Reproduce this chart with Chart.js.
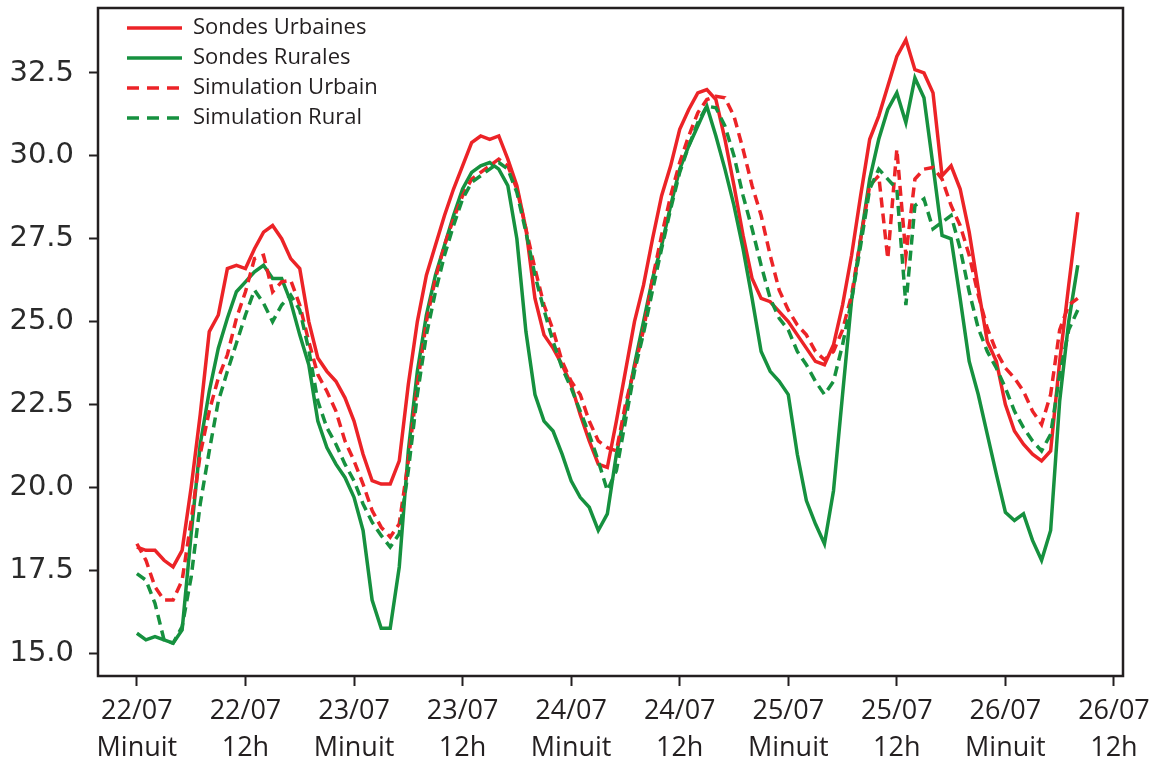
<!DOCTYPE html>
<html>
<head>
<meta charset="utf-8">
<script src="https://cdn.jsdelivr.net/npm/chart.js@4.4.1/dist/chart.umd.min.js"></script>
<style>
  html, body { margin: 0; padding: 0; background: #ffffff; }
  #wrap { width: 1162px; height: 765px; }
</style>
</head>
<body>
<div id="wrap"><canvas id="c" width="1162" height="765"></canvas></div>
<script>
// Hours since 22/07 00h (one value per hour)
const seriesNames = ["Sondes Urbaines", "Sondes Rurales", "Simulation Urbain", "Simulation Rural"];

const urbanObs = [
  18.2,18.1,18.1,17.8,17.6,18.1,20.0,22.2,24.7,25.2,26.6,26.7,26.6,27.2,27.7,27.9,27.5,26.9,26.6,25.0,
  23.9,23.5,23.2,22.7,22.0,21.0,20.2,20.1,20.1,20.8,23.1,25.0,26.4,27.3,28.2,29.0,29.7,30.4,30.6,30.5,
  30.6,29.9,29.1,27.8,25.7,24.6,24.2,23.7,23.1,22.2,21.4,20.7,20.6,22.0,23.5,25.0,26.1,27.5,28.8,29.7,
  30.8,31.4,31.9,32.0,31.7,30.5,29.1,27.6,26.3,25.7,25.6,25.3,25.0,24.6,24.2,23.8,23.7,24.3,25.5,27.0,
  28.8,30.5,31.2,32.1,33.0,33.5,32.6,32.5,31.9,29.4,29.7,29.0,27.7,26.0,24.4,23.8,22.5,21.7,21.3,21.0,
  20.8,21.1,23.8,26.1,28.3
];
const ruralObs = [
  15.6,15.4,15.5,15.4,15.3,15.7,18.6,21.3,22.9,24.2,25.1,25.9,26.2,26.5,26.7,26.3,26.3,25.6,24.6,23.7,
  22.0,21.2,20.7,20.3,19.7,18.7,16.6,15.75,15.75,17.6,21.1,23.5,25.2,26.4,27.3,28.2,29.0,29.5,29.7,29.8,
  29.6,29.1,27.5,24.7,22.8,22.0,21.7,21.0,20.2,19.7,19.4,18.7,19.2,21.0,22.3,23.7,25.0,26.3,27.3,28.5,
  29.6,30.3,30.9,31.5,30.6,29.6,28.5,27.2,25.7,24.1,23.5,23.2,22.8,21.0,19.6,18.9,18.3,19.9,22.8,25.65,
  27.5,29.3,30.5,31.4,31.9,31.0,32.35,31.75,29.7,27.6,27.5,25.7,23.8,22.8,21.6,20.4,19.25,19.0,19.2,18.4,
  17.8,18.7,22.6,25.0,26.7
];
const simUrban = [
  18.3,17.8,17.0,16.6,16.6,17.2,19.0,21.0,22.3,23.3,24.0,25.1,25.9,26.9,27.0,25.9,26.2,26.25,25.5,24.4,
  23.4,22.9,22.3,21.4,20.8,20.1,19.3,18.8,18.5,18.9,20.8,23.1,25.0,26.3,27.3,28.1,28.8,29.3,29.5,29.7,
  29.9,29.7,29.0,27.8,26.6,25.5,24.75,23.8,23.2,22.8,22.0,21.4,21.2,21.1,22.5,23.6,24.75,26.3,27.6,28.8,
  29.8,30.6,31.3,31.7,31.8,31.75,31.2,30.2,29.1,28.2,27.0,25.95,25.35,24.9,24.6,24.1,23.85,24.1,24.75,25.8,
  27.5,29.1,29.4,26.9,30.2,27.0,29.3,29.6,29.65,29.3,28.5,27.9,27.0,25.8,24.8,24.1,23.6,23.3,22.9,22.3,
  21.9,22.8,24.75,25.5,25.7
];
const simRural = [
  17.4,17.2,16.5,15.4,15.3,15.8,17.3,19.5,21.1,22.6,23.5,24.35,25.2,25.95,25.55,25.0,25.5,25.8,25.35,24.15,
  22.6,21.8,21.3,20.7,20.2,19.5,18.95,18.55,18.2,18.6,20.5,22.8,24.6,25.9,27.0,27.9,28.7,29.2,29.4,29.6,
  29.8,29.6,28.9,27.7,26.4,25.35,24.4,23.6,23.0,22.3,21.6,20.8,19.9,20.5,22.0,23.5,24.65,25.95,27.2,28.4,
  29.5,30.3,31.0,31.5,31.45,30.9,30.0,28.8,27.8,26.7,25.7,25.1,24.75,24.1,23.7,23.2,22.8,23.2,24.3,25.65,
  27.3,29.0,29.6,29.3,29.0,25.5,28.5,28.7,27.8,28.0,28.2,27.2,25.9,24.8,24.1,23.6,23.0,22.3,21.8,21.4,
  21.1,21.6,23.4,24.75,25.35
];

const xTickHours = [0, 12, 24, 36, 48, 60, 72, 84, 96, 108];
const xTickLabels = [
  ["22/07", "Minuit"], ["22/07", "12h"], ["23/07", "Minuit"], ["23/07", "12h"],
  ["24/07", "Minuit"], ["24/07", "12h"], ["25/07", "Minuit"], ["25/07", "12h"],
  ["26/07", "Minuit"], ["26/07", "12h"]
];
const yTickValues = [15.0, 17.5, 20.0, 22.5, 25.0, 27.5, 30.0, 32.5];

const RED = '#ec2327';
const GREEN = '#16913f';
const INK = '#231f20';

function toPoints(arr) { return arr.map((v, i) => ({ x: i, y: v })); }

const frame = {
  id: 'frame',
  afterDatasetsDraw(chart) {
    const { ctx, chartArea: a } = chart;
    ctx.save();
    ctx.strokeStyle = INK;
    ctx.lineWidth = 2.5;
    ctx.strokeRect(a.left, a.top, a.right - a.left, a.bottom - a.top);
    ctx.restore();
  }
};

const legendPlugin = {
  id: 'insideLegend',
  afterDraw(chart) {
    const { ctx } = chart;
    ctx.save();
    const x0 = 127, x1 = 182, tx = 193, y0 = 28, dy = 30;
    chart.data.datasets.forEach((ds, i) => {
      const y = y0 + i * dy;
      ctx.beginPath();
      ctx.strokeStyle = ds.borderColor;
      ctx.lineWidth = 3.5;
      ctx.setLineDash(ds.borderDash && ds.borderDash.length ? [12, 8] : []);
      ctx.moveTo(x0, y);
      ctx.lineTo(x1, y);
      ctx.stroke();
      ctx.setLineDash([]);
      ctx.fillStyle = INK;
      ctx.font = '22px "Open Sans"';
      ctx.textBaseline = 'middle';
      ctx.textAlign = 'left';
      ctx.fillText(ds.label, tx, y);
    });
    ctx.restore();
  }
};

const mk = (label, data, color, dash, order) => ({
  label, data: toPoints(data), borderColor: color, backgroundColor: color,
  borderWidth: 3.5, borderDash: dash, pointRadius: 0, tension: 0, fill: false, order
});

function noPad(scale) {
  scale.paddingTop = 0; scale.paddingBottom = 0;
  scale.paddingLeft = 0; scale.paddingRight = 0;
}

new Chart(document.getElementById('c'), {
  type: 'line',
  data: {
    datasets: [
      mk(seriesNames[0], urbanObs, RED, [], 4),
      mk(seriesNames[1], ruralObs, GREEN, [], 3),
      mk(seriesNames[2], simUrban, RED, [10, 6], 2),
      mk(seriesNames[3], simRural, GREEN, [10, 6], 1)
    ]
  },
  options: {
    responsive: false,
    animation: false,
    devicePixelRatio: 1,
    layout: { padding: { top: 8, right: 39, left: 0, bottom: 0 } },
    plugins: { legend: { display: false }, tooltip: { enabled: false } },
    scales: {
      x: {
        type: 'linear',
        min: -4.3, max: 109,
        afterBuildTicks(scale) { scale.ticks = xTickHours.map(v => ({ value: v })); },
        afterFit(scale) { scale.height = 89; noPad(scale); },
        ticks: {
          autoSkip: false, maxRotation: 0, minRotation: 0, padding: 7,
          color: INK,
          font: { family: '"Open Sans"', size: 27, lineHeight: 1.37 },
          callback(value) {
            const i = xTickHours.indexOf(value);
            return i >= 0 ? xTickLabels[i] : '';
          }
        },
        grid: { display: true, drawOnChartArea: false, drawTicks: true, tickLength: 10, tickWidth: 2, tickColor: INK },
        border: { display: false }
      },
      y: {
        type: 'linear',
        min: 14.31, max: 34.46,
        afterBuildTicks(scale) { scale.ticks = yTickValues.map(v => ({ value: v })); },
        afterFit(scale) { scale.width = 98; noPad(scale); },
        ticks: {
          padding: 15, color: '#2a2a2a',
          font: { family: '"DejaVu Sans"', size: 29 },
          callback(value) { return Number(value).toFixed(1); }
        },
        grid: { display: true, drawOnChartArea: false, drawTicks: true, tickLength: 9, tickWidth: 2, tickColor: INK },
        border: { display: false }
      }
    }
  },
  plugins: [frame, legendPlugin]
});
</script>
</body>
</html>
